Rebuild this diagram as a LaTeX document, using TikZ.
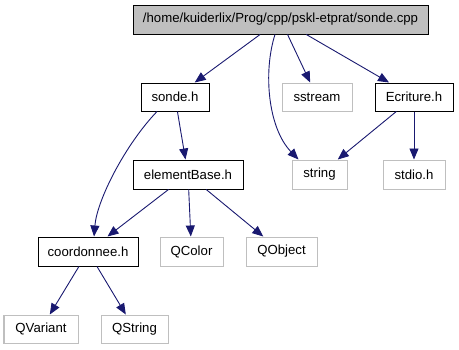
\documentclass[tikz,border=0pt]{standalone}
\usepackage{fontspec}
\setmainfont{Liberation Sans}
\usetikzlibrary{arrows.meta,calc}
\definecolor{edgeblue}{HTML}{191970}
\definecolor{sysgray}{HTML}{BFBFBF}
\definecolor{rootfill}{HTML}{BFBFBF}
\begin{document}
\begin{tikzpicture}[x=1pt,y=-1pt,
  font=\fontsize{13.2}{15}\selectfont,
  file/.style={draw=black,line width=1pt,fill=white,inner sep=0pt,
    minimum height=28pt},
  sys/.style={draw=sysgray,line width=1pt,fill=white,inner sep=0pt,
    minimum height=28pt},
  dep/.style={draw=edgeblue,line width=0.9pt,
    -{Triangle[length=11pt,width=9pt]}}]
\useasboundingbox (0,0) rectangle (459,349);

% include graph of sonde.cpp
\node[file,fill=rootfill,minimum width=295pt,minimum height=29pt] (root) at (280.5,19.5)
  {/home/kuiderlix/Prog/cpp/pskl-etprat/sonde.cpp};

\node[file,minimum width=68pt] (sonde) at (175,97) {sonde.h};
\node[sys,minimum width=70pt] (sstream) at (317,97) {sstream};
\node[file,minimum width=78pt] (ecriture) at (414,97) {Ecriture.h};

\node[file,minimum width=110pt,minimum height=29pt] (elembase) at (188,174.5) {elementBase.h};
\node[sys,minimum width=55pt,minimum height=29pt] (string) at (319.5,174.5) {string};
\node[sys,minimum width=62pt,minimum height=29pt] (stdio) at (414,174.5) {stdio.h};

\node[file,minimum width=100pt,minimum height=29pt] (coord) at (88,251.5) {coordonnee.h};
\node[sys,minimum width=63pt,minimum height=29pt] (qcolor) at (191.5,251.5) {QColor};
\node[sys,minimum width=71pt,minimum height=29pt] (qobject) at (281.5,251.5) {QObject};

\node[sys,minimum width=74pt] (qvariant) at (41,329) {QVariant};
\node[sys,minimum width=67pt] (qstring) at (134.5,329) {QString};

% dependencies
\draw[dep] (root) -- (sonde);
\draw[dep] (root) -- (sstream);
\draw[dep] (root) -- (ecriture);
\draw[dep] ($(root.south)+(-5.5,0)$) .. controls (263,72) and (268,128) .. ($(string.north)+(-21,0)$);

\draw[dep] (sonde) -- (elembase);
\draw[dep] ($(sonde.south)+(-18,0)$) .. controls (125,145) and (97,200) .. ($(coord.north)+(6,0)$);

\draw[dep] (ecriture) -- (string);
\draw[dep] (ecriture) -- (stdio);

\draw[dep] (elembase) -- (coord);
\draw[dep] (elembase) -- (qcolor);
\draw[dep] (elembase) -- (qobject);

\draw[dep] (coord) -- (qvariant);
\draw[dep] (coord) -- (qstring);
\end{tikzpicture}
\end{document}
